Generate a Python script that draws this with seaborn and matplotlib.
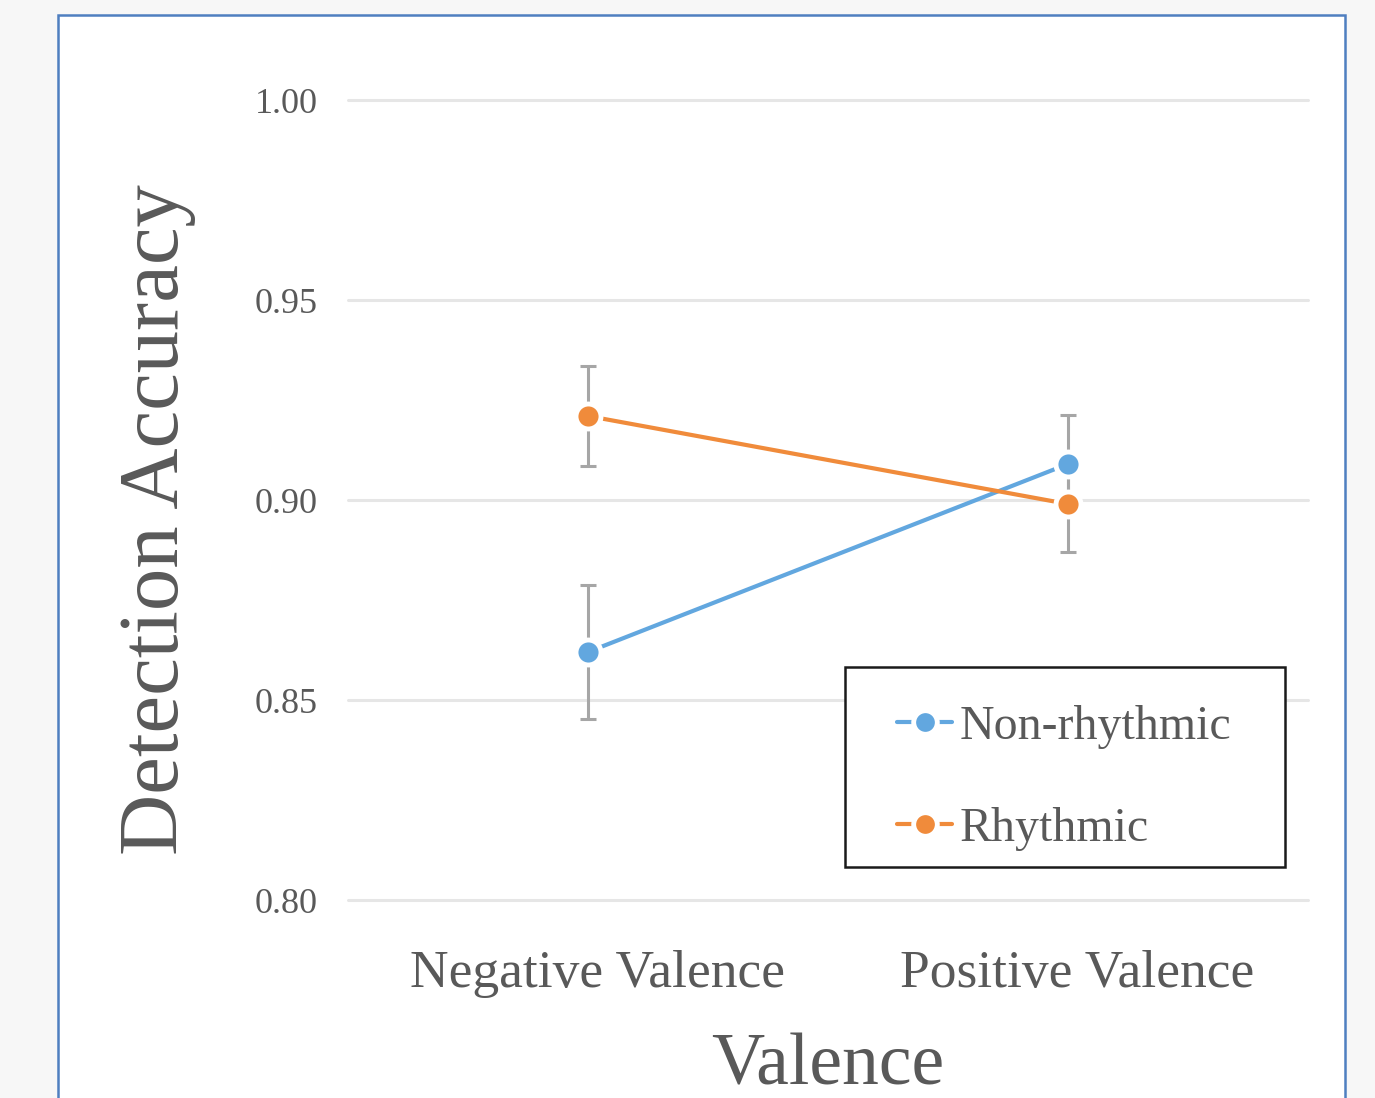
# plot.py
# Detection accuracy by valence, rhythmic vs non-rhythmic

import numpy as np
import pandas as pd
import matplotlib.pyplot as plt
import matplotlib.transforms as mtransforms
import seaborn as sns
from matplotlib.patches import Rectangle


# -------------------------------
# 1. Data
# -------------------------------

valence = ["Negative Valence", "Positive Valence"]
conditions = ["Non-rhythmic", "Rhythmic"]
non_rhythmic = [0.862, 0.909]
rhythmic = [0.921, 0.899]
non_rhythmic_err = [0.0167, 0.0123]
rhythmic_err = [0.0124, 0.0121]
yticks = [0.80, 0.85, 0.90, 0.95, 1.00]

df = pd.DataFrame({
    "valence": valence * 2,
    "condition": [conditions[0]] * 2 + [conditions[1]] * 2,
    "accuracy": non_rhythmic + rhythmic,
    "err": non_rhythmic_err + rhythmic_err,
})

colors = {"Non-rhythmic": "#62a7df", "Rhythmic": "#f08b3b"}
text_grey = "#595959"


# -------------------------------
# 2. Figure
# -------------------------------

sns.set_style("white")
plt.rcParams["font.family"] = ["Liberation Serif", "DejaVu Serif"]

fig = plt.figure(figsize=(13.75, 10.98), dpi=100, facecolor="#f7f7f7")

# white chart card with a blue frame
W, H = 1375, 1098
card = Rectangle((58 / W, -0.05), (1345 - 58) / W, 1.05 - 15 / H,
                 transform=fig.transFigure, facecolor="white",
                 edgecolor="#4f7fc0", linewidth=1.8, zorder=-10)
fig.patches.append(card)

ax = fig.add_axes([348 / W, 1 - 900 / H, (1308 - 348) / W, 800 / H])
ax.set_facecolor("none")

# error bars first so markers sit on top
for i, cond in enumerate(conditions):
    sub = df[df["condition"] == cond]
    ax.errorbar(np.arange(len(valence)), sub["accuracy"], yerr=sub["err"],
                fmt="none", ecolor="#a6a6a6", elinewidth=2.2, capsize=6,
                capthick=2.2, zorder=2)

sns.lineplot(data=df, x="valence", y="accuracy", hue="condition",
             hue_order=conditions, palette=colors, marker="o",
             markersize=18, markeredgecolor="white", markeredgewidth=3.5,
             linewidth=3, sort=False, ax=ax, zorder=3)

ax.set_xlim(-0.5, 1.5)
ax.set_ylim(0.80, 1.00)
ax.set_yticks(yticks)
ax.set_yticklabels([f"{t:.2f}" for t in yticks])
ax.yaxis.grid(True, color="#e6e6e6", linewidth=2.2)
for line in ax.get_ygridlines():
    line.set_clip_on(False)
ax.set_axisbelow(True)
sns.despine(ax=ax, left=True, bottom=True)

ax.tick_params(axis="y", length=0, pad=22, labelsize=26, labelcolor=text_grey)
ax.tick_params(axis="x", length=0, pad=36, labelsize=38.5, labelcolor=text_grey)

# category labels sit a little right of the points in the original
shift = mtransforms.ScaledTranslation(9 / 100, 0, fig.dpi_scale_trans)
for lab in ax.get_xticklabels():
    lab.set_transform(lab.get_transform() + shift)

ax.set_xlabel("Valence", fontsize=53, color=text_grey, labelpad=25)
ax.set_ylabel("Detection Accuracy", fontsize=61, color=text_grey, labelpad=42)
ax.yaxis.label.set_y(0.475)

# legend: own frame, entries placed inside it
box = Rectangle((0.518, 0.041), 0.458, 0.25, transform=ax.transAxes,
                facecolor="white", edgecolor="#1a1a1a", linewidth=1.8,
                zorder=4)
ax.add_patch(box)

handles, labels = ax.get_legend_handles_labels()
for h in handles:
    h.set_markersize(17)
leg = ax.legend(handles, labels, loc="upper left",
                bbox_to_anchor=(0.572, 0.244), borderaxespad=0, borderpad=0,
                fontsize=34.5, frameon=False, handlelength=1.15,
                handletextpad=0.15, labelspacing=1.21)
leg.set_zorder(5)
for t in leg.get_texts():
    t.set_color(text_grey)

fig.savefig("out.png", dpi=100, facecolor=fig.get_facecolor())
